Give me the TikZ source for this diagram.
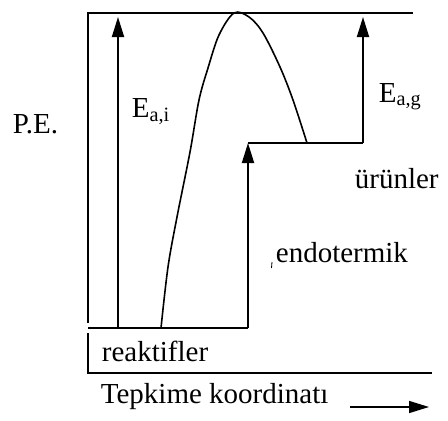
\documentclass[tikz,border=0pt]{standalone}
\usepackage{fontspec}
\setmainfont{Liberation Serif}
\usetikzlibrary{arrows.meta}
\begin{document}
\begin{tikzpicture}[x=1pt,y=-1pt,line width=1.8pt,
  lbl/.style={inner sep=0pt,anchor=base west,font=\fontsize{29}{31}\selectfont},
  arr/.style={-{Triangle[length=20pt,width=12pt]}}]
\useasboundingbox (0,0) rectangle (448,421);
% key points
\coordinate (boxtop) at (88,13);
\coordinate (boxbot) at (88,323);
\coordinate (topR) at (413,13);
\coordinate (r0) at (88,328);
\coordinate (r1) at (248,328);
\coordinate (p0) at (248,143);
\coordinate (p1) at (363,143);
\coordinate (ltail) at (118,328);
\coordinate (ltip) at (118,17);
\coordinate (rtip) at (363,17);
\coordinate (bl0) at (88,333);
\coordinate (bl1) at (432,373);
\coordinate (ax0) at (350,407);
\coordinate (ax1) at (429,407);
% frame
\draw (boxbot) -- (boxtop) -- (topR);
\draw (r0) -- (r1);
\draw[arr] (r1) -- (p0);
\draw (p0) -- (p1);
\draw[arr] (p1) -- (rtip);
\draw[arr] (ltail) -- (ltip);
\draw (bl0) |- (bl1);
% reaction curve
\draw[line width=1.6pt] plot[smooth,tension=0.55] coordinates
  {(161,328) (168,267) (177,217) (190,152) (199,100) (208,68) (219,35) (234,13) (249,17) (263,33) (280,67) (293,100) (307,143)};
% labels
\node[lbl] (pe) at (12,133) {P.E.};
\node[lbl] (eai) at (131,117) {E\textsubscript{a,i}};
\node[lbl] (eag) at (378,102) {E\textsubscript{a,g}};
\node[lbl] (urun) at (354,188) {ürünler};
\node[lbl] (endo) at (275,262) {endotermik};
\node[lbl] (reak) at (101,361) {reaktifler};
\node[lbl] (tep) at (100,403) {Tepkime koordinatı};
\draw[line width=0.8pt] (272,262) -- (271.5,268);
\draw[arr,line width=1.5pt] (ax0) -- (ax1);
\end{tikzpicture}
\end{document}
